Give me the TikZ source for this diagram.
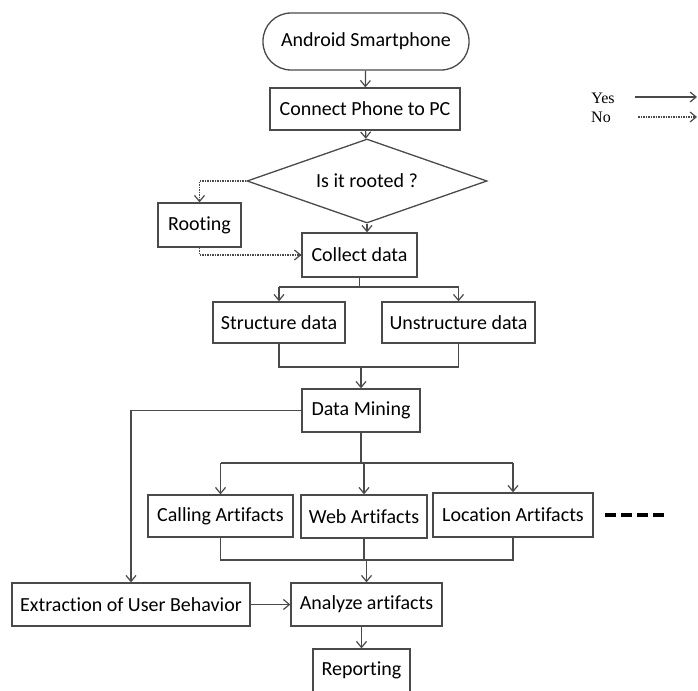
\documentclass[tikz,border=0pt]{standalone}
\usepackage{fontspec}
\setmainfont{Carlito}[Ligatures={NoCommon}]
\newfontfamily\legendfont{Liberation Serif}
\usetikzlibrary{arrows.meta,shapes.geometric}
\definecolor{linec}{HTML}{4A4A4A}
\begin{document}
\begin{tikzpicture}[x=1pt,y=-1pt,
  box/.style={draw=linec, line width=1.3pt, fill=white, inner sep=0pt, font=\fontsize{20}{24}\selectfont, text=black},
  conn/.style={draw=linec, line width=1.2pt},
  arr/.style={conn, -{Straight Barb[length=6pt,width=10pt]}},
  noarr/.style={arr, dash pattern=on 1.5pt off 1pt},
  legend/.style={font=\legendfont\fontsize{16}{19}\selectfont, inner sep=0pt, text=black},
]
\useasboundingbox (0,0) rectangle (698,690);
\node[box, rounded corners=28pt, minimum width=206pt, minimum height=57pt] (android) at (366,41.5) {Android Smartphone};
\node[box, minimum width=190pt, minimum height=42pt] (connect) at (365,109) {Connect Phone to PC};
\node[box, diamond, aspect=2.857, minimum width=240pt, minimum height=84pt] (rooted) at (367,181) {Is it rooted ?};
\node[box, minimum width=83pt, minimum height=44pt] (rooting) at (199.5,225) {Rooting};
\node[box, minimum width=115pt, minimum height=44pt] (collect) at (359.5,255) {Collect data};
\node[box, minimum width=132pt, minimum height=41pt] (structure) at (279,322.5) {Structure data};
\node[box, minimum width=153pt, minimum height=41pt] (unstructure) at (458.5,322.5) {Unstructure data};
\node[box, minimum width=118pt, minimum height=43pt] (mining) at (361,410.5) {Data Mining};
\node[box, minimum width=145pt, minimum height=42pt] (calling) at (220.5,516) {Calling Artifacts};
\node[box, minimum width=126pt, minimum height=43pt] (web) at (364,516.5) {Web Artifacts};
\node[box, minimum width=160pt, minimum height=44pt] (location) at (513,515) {Location Artifacts};
\node[box, minimum width=238pt, minimum height=43pt] (extraction) at (131,604.5) {Extraction of User Behavior};
\node[box, minimum width=151pt, minimum height=43pt] (analyze) at (366.5,604.5) {Analyze artifacts};
\node[box, minimum width=97pt, minimum height=43pt] (reporting) at (361.5,670.5) {Reporting};

\node[legend] (yes) at (603,98) {Yes};
\node[legend] (no) at (601,117) {No};
\coordinate (ya) at (635,97);
\coordinate (yb) at (697,97);
\coordinate (na) at (638,117);
\coordinate (nb) at (697,117);
\draw[arr] (ya) -- (yb);
\draw[noarr] (na) -- (nb);

\coordinate (s1) at (359.5,287);
\coordinate (m1) at (361,367);
\coordinate (s2) at (361,463);
\coordinate (m2) at (361,560);
\coordinate (d1) at (605,515);
\coordinate (d2) at (668,515);

\draw[arr] (android) -- (connect);
\draw[arr] (connect) -- (rooted);
\draw[noarr] (rooted.west) -| (rooting.north);
\draw[arr] (rooted.south) -- (rooted.south |- collect.north);
\draw[noarr] (rooting.south) |- (collect.west);

\draw[conn] (collect.south) -- (collect.south |- s1);
\draw[conn] (structure.north |- s1) -- (unstructure.north |- s1);
\draw[arr] (structure.north |- s1) -- (structure.north);
\draw[arr] (unstructure.north |- s1) -- (unstructure.north);

\draw[conn] (structure.south) |- (unstructure.south |- m1) -- (unstructure.south);
\draw[arr] (mining.north |- m1) -- (mining.north);

\draw[arr] (mining.west) -| (extraction.north);

\draw[conn] (mining.south) -- (mining.south |- s2);
\draw[conn] (calling.north |- s2) -- (location.north |- s2);
\draw[arr] (calling.north |- s2) -- (calling.north);
\draw[arr] (web.north |- s2) -- (web.north);
\draw[arr] (location.north |- s2) -- (location.north);

\draw[conn] (calling.south) |- (location.south |- m2) -- (location.south);
\draw[conn] (web.south) -- (web.south |- m2);
\draw[arr] (analyze.north |- m2) -- (analyze.north);

\draw[arr] (extraction) -- (analyze);
\draw[arr] (reporting.north |- analyze.south) -- (reporting.north);

\draw[line width=4pt, dash pattern=on 11pt off 5pt] (d1) -- (d2);
\end{tikzpicture}
\end{document}
